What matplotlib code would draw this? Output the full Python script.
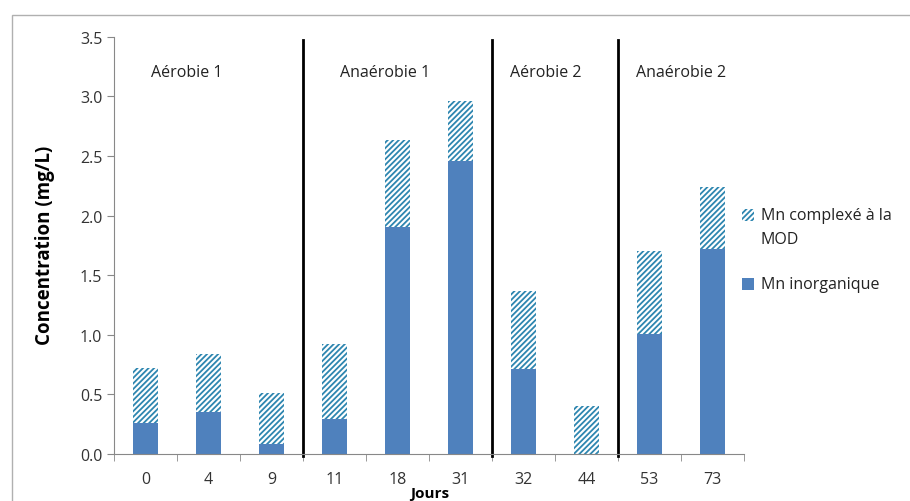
import matplotlib.pyplot as plt
from matplotlib.patches import Rectangle
import matplotlib.transforms as mtransforms

plt.rcParams['font.family'] = ['Open Sans', 'DejaVu Sans']

# Données
jours = ['0', '4', '9', '11', '18', '31', '32', '44', '53', '73']
mn_inorganique = [0.26, 0.35, 0.08, 0.29, 1.90, 2.46, 0.71, 0.00, 1.01, 1.72]
mn_complexe = [0.46, 0.49, 0.43, 0.63, 0.73, 0.50, 0.66, 0.40, 0.69, 0.52]
phases = ['Aérobie 1', 'Anaérobie 1', 'Aérobie 2', 'Anaérobie 2']
phase_centres = [0.65, 3.8, 6.35, 8.5]
separations = [2.5, 5.5, 7.5]

bleu = '#4F81BD'
hachure = '#2E86B0'

W, H = 910, 502
fig = plt.figure(figsize=(9.1, 5.02), dpi=100)
ax = fig.add_axes([0.1253, 0.0936, 0.6923, 0.8313])

# cadre gris autour du graphique
fig.patches.append(Rectangle((12 / W, -0.1), 1.2, 1 - 16 / H + 0.1,
                             transform=fig.transFigure, fill=False,
                             edgecolor='#b0b0b0', linewidth=1.0))

plt.rcParams['hatch.linewidth'] = 1.3
x = range(len(jours))
ax.bar(x, mn_inorganique, width=0.41, color=bleu, linewidth=0)
ax.bar(x, mn_complexe, width=0.41, bottom=mn_inorganique, color='white',
       edgecolor=hachure, hatch='//////', linewidth=0)

ax.set_xlim(-0.5, 9.5)
ax.set_ylim(0, 3.5)
ax.set_yticks([0, 0.5, 1.0, 1.5, 2.0, 2.5, 3.0, 3.5])
ax.set_yticklabels(['0.0', '0.5', '1.0', '1.5', '2.0', '2.5', '3.0', '3.5'])
ax.set_xticks(list(x))
ax.set_xticklabels(jours)
ax.set_xticks([i + 0.5 for i in range(-1, 10)], minor=True)
ax.tick_params(axis='x', which='major', length=0, pad=12, labelsize=11.5, labelcolor='#333333')
ax.tick_params(axis='x', which='minor', length=5, color='#888888', direction='out')
ax.tick_params(axis='y', length=5, color='#888888', labelsize=11.5, labelcolor='#333333')

for s in ['top', 'right']:
    ax.spines[s].set_visible(False)
for s in ['left', 'bottom']:
    ax.spines[s].set_color('#888888')

# lignes de séparation des phases
trans = mtransforms.blended_transform_factory(ax.transData, ax.transAxes)
for sx in separations:
    ax.plot([sx, sx], [-0.005, 0.993], transform=trans, color='black',
            linewidth=2, clip_on=False)

for nom, cx in zip(phases, phase_centres):
    ax.text(cx, 3.2, nom, ha='center', va='center', fontsize=11.5, color='#222222')

fig.text(45 / W, 1 - 245 / H, 'Concentration (mg/L)', rotation=90, ha='center',
         va='center', fontsize=13.5, fontweight='bold')
fig.text(430 / W, 1 - 494 / H, 'Jours', ha='center', va='center',
         fontsize=11, fontweight='bold')

# légende
fig.patches.append(Rectangle((742 / W, 1 - 222 / H), 12 / W, 12 / H,
                             transform=fig.transFigure, facecolor='white',
                             edgecolor=hachure, hatch='//////', linewidth=0))
fig.text(761 / W, 1 - 216 / H, 'Mn complexé à la', va='center', fontsize=11.5, color='#222222')
fig.text(761 / W, 1 - 240 / H, 'MOD', va='center', fontsize=11.5, color='#222222')
fig.patches.append(Rectangle((742 / W, 1 - 291 / H), 12 / W, 12 / H,
                             transform=fig.transFigure, facecolor=bleu, linewidth=0))
fig.text(761 / W, 1 - 285 / H, 'Mn inorganique', va='center', fontsize=11.5, color='#222222')

fig.savefig('out.png', dpi=100)
